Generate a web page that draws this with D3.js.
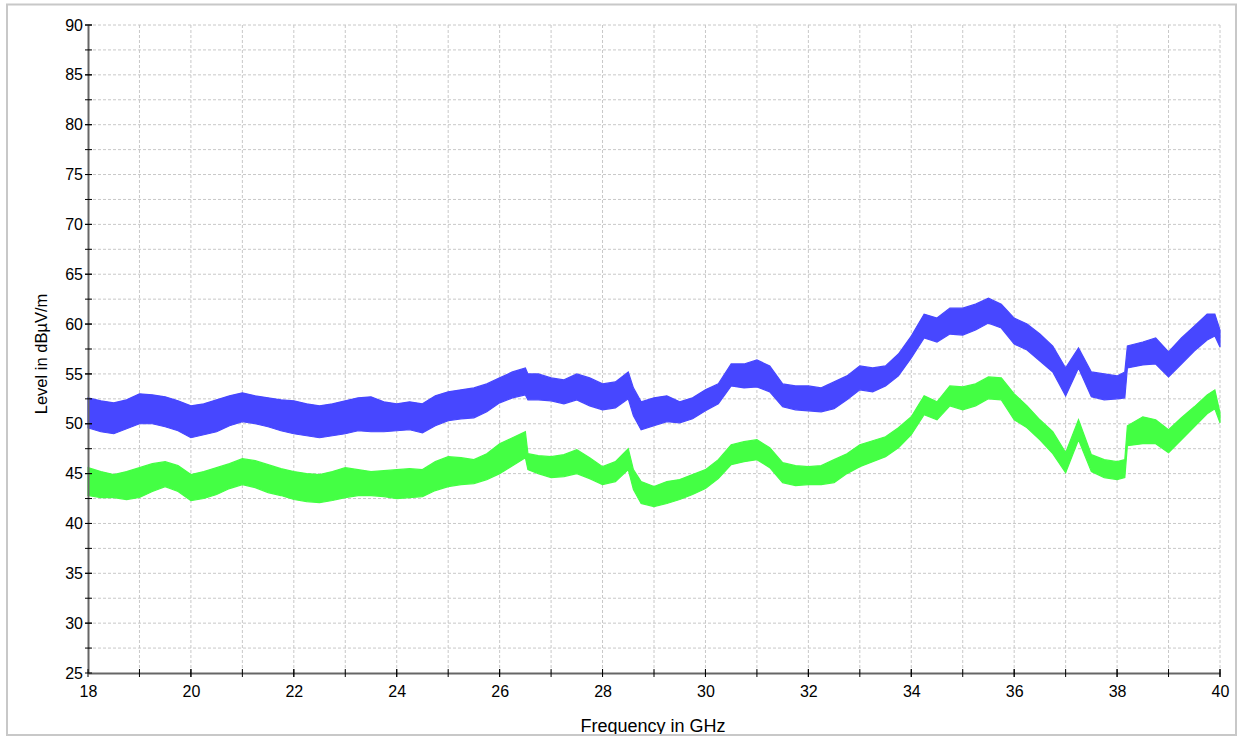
<!DOCTYPE html>
<html>
<head>
<meta charset="utf-8">
<script src="https://d3js.org/d3.v7.min.js"></script>
<style>
  body { margin: 0; background: #fff; }
  text { font-family: "Liberation Sans", Arial, sans-serif; fill: #000; }
  .grid line { stroke: #c8c8c8; stroke-dasharray: 3,2; }
</style>
</head>
<body>
<svg id="chart"></svg>
<script>
// Frequency points (GHz) the envelopes were read at
const freq = [
  18, 18.25, 18.5, 18.75, 19, 19.25, 19.5, 19.75,
  20, 20.25, 20.5, 20.75, 21, 21.25, 21.5, 21.75,
  22, 22.25, 22.5, 22.75, 23, 23.25, 23.5, 23.75,
  24, 24.25, 24.5, 24.75, 25, 25.25, 25.5, 25.75,
  26, 26.25, 26.5, 26.55, 26.75, 27, 27.25, 27.5,
  27.75, 28, 28.25, 28.5, 28.6, 28.75, 29, 29.25,
  29.5, 29.75, 30, 30.25, 30.5, 30.75, 31, 31.25,
  31.5, 31.75, 32, 32.25, 32.5, 32.75, 33, 33.25,
  33.5, 33.75, 34, 34.25, 34.5, 34.75, 35, 35.25,
  35.5, 35.75, 36, 36.25, 36.5, 36.75, 37, 37.25,
  37.5, 37.75, 38, 38.15, 38.2, 38.5, 38.75, 39,
  39.25, 39.5, 39.75, 39.9, 40
];

// Blue trace (peak), upper and lower edge in dBµV/m
const blueHi = [
  52.6, 52.3, 52.1, 52.4, 53.0, 52.9, 52.7, 52.3,
  51.8, 52.0, 52.4, 52.8, 53.1, 52.8, 52.6, 52.4,
  52.3, 52.0, 51.8, 52.0, 52.3, 52.6, 52.7, 52.2,
  52.0, 52.2, 52.0, 52.8, 53.2, 53.4, 53.6, 54.0,
  54.6, 55.2, 55.6, 55.0, 55.0, 54.6, 54.4, 55.0,
  54.6, 54.0, 54.2, 55.2, 53.6, 52.2, 52.6, 52.8,
  52.2, 52.6, 53.4, 54.0, 56.0, 56.0, 56.4, 55.8,
  54.0, 53.8, 53.8, 53.6, 54.2, 54.8, 55.8, 55.6,
  55.8, 57.0, 58.8, 61.0, 60.6, 61.6, 61.6, 62.0,
  62.6, 62.0, 60.6, 60.0, 59.0, 57.8, 55.6, 57.6,
  55.2, 55.0, 54.8, 55.2, 57.8, 58.2, 58.6, 57.2,
  58.6, 59.8, 61.0, 61.0, 59.4
];
const blueLo = [
  49.6, 49.2, 49.0, 49.5, 50.0, 50.0, 49.7, 49.3,
  48.6, 48.9, 49.2, 49.8, 50.2, 50.0, 49.7, 49.3,
  49.0, 48.8, 48.6, 48.8, 49.0, 49.3, 49.2, 49.2,
  49.3, 49.4, 49.1, 49.8, 50.3, 50.5, 50.6, 51.2,
  52.1, 52.6, 52.9, 52.4, 52.4, 52.3, 52.0, 52.4,
  51.8, 51.4, 51.6, 52.5, 50.8, 49.4, 49.8, 50.2,
  50.1, 50.5, 51.3, 52.0, 53.8, 53.6, 53.7, 53.2,
  51.7, 51.4, 51.3, 51.2, 51.5, 52.4, 53.4, 53.2,
  53.8, 54.8, 56.6, 58.6, 58.2, 59.0, 58.9, 59.4,
  60.1, 59.6, 58.0, 57.4, 56.3, 55.2, 52.8, 55.6,
  52.7, 52.4, 52.5, 52.6, 55.6, 55.9, 56.0, 54.7,
  56.0, 57.3, 58.4, 58.8, 57.7
];

// Green trace (average), upper and lower edge in dBµV/m
const greenHi = [
  45.6, 45.2, 44.9, 45.2, 45.6, 46.0, 46.2, 45.8,
  44.9, 45.2, 45.6, 46.0, 46.5, 46.3, 45.9, 45.5,
  45.2, 45.0, 44.9, 45.2, 45.6, 45.4, 45.2, 45.3,
  45.4, 45.5, 45.4, 46.2, 46.7, 46.6, 46.4, 47.0,
  48.0, 48.6, 49.2, 47.0, 46.8, 46.7, 46.9, 47.4,
  46.6, 45.7, 46.2, 47.5, 45.4, 44.2, 43.7, 44.2,
  44.4, 44.9, 45.4, 46.4, 47.9, 48.2, 48.4, 47.6,
  46.1, 45.8, 45.7, 45.8, 46.4, 47.0, 47.9, 48.3,
  48.7, 49.6, 50.7, 52.8, 52.2, 53.8, 53.7, 54.0,
  54.7, 54.6, 53.0, 51.8, 50.4, 49.2, 47.1, 50.4,
  46.9, 46.4, 46.2, 46.4, 49.8, 50.7, 50.4, 49.4,
  50.6, 51.7, 52.9, 53.4, 51.1
];
const greenLo = [
  42.8, 42.6, 42.6, 42.4, 42.6, 43.2, 43.7, 43.2,
  42.3, 42.5, 42.9, 43.5, 43.9, 43.6, 43.1, 42.8,
  42.4, 42.2, 42.1, 42.3, 42.6, 42.8, 42.8, 42.7,
  42.5, 42.6, 42.7, 43.3, 43.7, 43.9, 44.0, 44.4,
  45.0, 45.8, 46.6, 45.4, 45.0, 44.6, 44.7, 45.0,
  44.5, 43.9, 44.2, 45.4, 43.4, 42.0, 41.7, 42.0,
  42.4, 42.9, 43.5, 44.5, 45.9, 46.2, 46.4, 45.6,
  44.1, 43.8, 43.9, 43.9, 44.1, 45.0, 45.7, 46.2,
  46.7, 47.6, 48.9, 50.9, 50.4, 51.8, 51.4, 51.8,
  52.5, 52.4, 50.4, 49.6, 48.4, 47.0, 45.1, 48.4,
  45.2, 44.6, 44.4, 44.6, 47.8, 48.0, 48.0, 47.1,
  48.4, 49.7, 51.0, 51.5, 50.1
];

// Axis ticks
const xTicks = [18, 20, 22, 24, 26, 28, 30, 32, 34, 36, 38, 40];
const xMinor = d3.range(19, 41, 1);
const yTicks = [25, 30, 35, 40, 45, 50, 55, 60, 65, 70, 75, 80, 85, 90];
const yMinor = d3.range(27.5, 90.1, 2.5);

const width = 1243, height = 739;
const margin = {top: 25, right: 23, bottom: 66, left: 88};
const innerW = width - margin.left - margin.right;
const innerH = height - margin.top - margin.bottom;

const svg = d3.select('#chart')
    .attr('width', width)
    .attr('height', height);

const xScale = d3.scaleLinear().domain([18, 40]).range([0, innerW]);
const yScale = d3.scaleLinear().domain([25, 90]).range([innerH, 0]);

const chart = svg.append('g')
    .attr('transform', `translate(${margin.left},${margin.top})`);

// Dashed gridlines
chart.append('g')
    .attr('class', 'grid')
    .selectAll('line')
    .data(xMinor)
    .join('line')
    .attr('x1', d => xScale(d)).attr('x2', d => xScale(d))
    .attr('y1', 0).attr('y2', innerH);

chart.append('g')
    .attr('class', 'grid')
    .selectAll('line')
    .data(yMinor)
    .join('line')
    .attr('y1', d => yScale(d)).attr('y2', d => yScale(d))
    .attr('x1', 0).attr('x2', innerW);

// Traces as filled bands between lower and upper edge
const series = [
  {hi: blueHi, lo: blueLo, color: '#4747ff'},
  {hi: greenHi, lo: greenLo, color: '#44ff44'}
];

const band = d3.area()
    .x(d => xScale(d.f))
    .y0(d => yScale(d.lo))
    .y1(d => yScale(d.hi));

series.forEach(s => {
  const pts = freq.map((f, i) => ({f: f, hi: s.hi[i], lo: s.lo[i]}));
  chart.append('path')
      .datum(pts)
      .attr('d', band)
      .attr('fill', s.color)
      .attr('stroke', s.color)
      .attr('stroke-width', 1.2);
});

// Axes
const xAxis = d3.axisBottom(xScale)
    .tickValues(xTicks)
    .tickSize(0)
    .tickPadding(13)
    .tickFormat(d3.format('d'));

const yAxis = d3.axisLeft(yScale)
    .tickValues(yTicks)
    .tickSize(0)
    .tickPadding(5)
    .tickFormat(d3.format('d'));

const xAxisG = chart.append('g')
    .attr('transform', `translate(0,${innerH})`)
    .call(xAxis);
xAxisG.select('.domain').attr('stroke', '#666').attr('stroke-width', 2);
xAxisG.selectAll('text').attr('font-size', 16).attr('font-family', null);

const yAxisG = chart.append('g').call(yAxis);
yAxisG.select('.domain').attr('stroke', '#666').attr('stroke-width', 2);
yAxisG.selectAll('text').attr('font-size', 16).attr('font-family', null);

// Tick marks crossing the axis lines
chart.append('g')
    .selectAll('line')
    .data(xTicks.concat(xMinor))
    .join('line')
    .attr('x1', d => xScale(d)).attr('x2', d => xScale(d))
    .attr('y1', innerH - 4).attr('y2', innerH + 4)
    .attr('stroke', '#000');

chart.append('g')
    .selectAll('line')
    .data(yTicks.concat(yMinor))
    .join('line')
    .attr('y1', d => yScale(d)).attr('y2', d => yScale(d))
    .attr('x1', -3).attr('x2', 4)
    .attr('stroke', '#000');

// Axis titles
svg.append('text')
    .attr('x', margin.left + innerW / 2 - 1)
    .attr('y', 732)
    .attr('text-anchor', 'middle')
    .attr('font-size', 18)
    .text('Frequency in GHz');

svg.append('text')
    .attr('transform', 'rotate(-90)')
    .attr('x', -354)
    .attr('y', 47)
    .attr('text-anchor', 'middle')
    .attr('font-size', 16.5)
    .text('Level in dBµV/m');

// Outer frame, which cuts the x title at the bottom
svg.append('rect')
    .attr('x', 0).attr('y', 735)
    .attr('width', width).attr('height', 4)
    .attr('fill', '#fff');

svg.append('rect')
    .attr('x', 7).attr('y', 4.5)
    .attr('width', 1229).attr('height', 730.5)
    .attr('fill', 'none')
    .attr('stroke', '#c8c8c8')
    .attr('stroke-width', 2);
</script>
</body>
</html>
